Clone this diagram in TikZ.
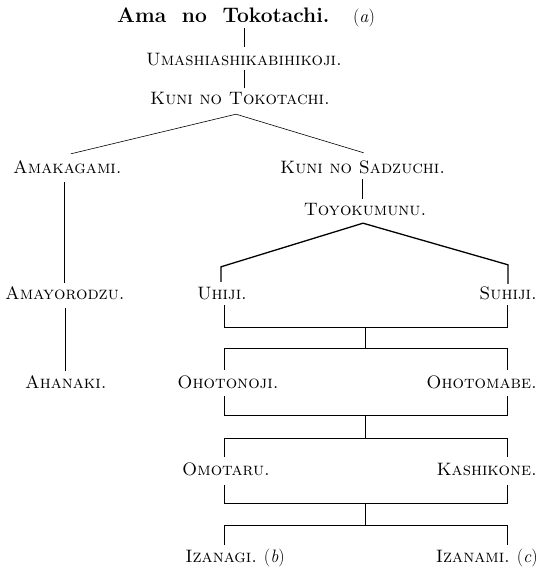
\documentclass[tikz,border=0pt]{standalone}
\usetikzlibrary{calc}
\begin{document}
\begin{tikzpicture}[x=1pt,y=-1pt,
  nm/.style={inner sep=0pt, font=\fontsize{18}{20}\selectfont\scshape, text height=13pt, text depth=0pt},
  ttl/.style={inner sep=0pt, font=\fontsize{21}{24}\selectfont\bfseries, text height=15pt, text depth=0pt},
  ln/.style={line width=0.6pt},
  thk/.style={line width=1.3pt}]
\useasboundingbox (0,0) rectangle (539,569);
% nodes
\node[ttl, anchor=base west] (title) at (117,23) {Ama\ \ no\ \ Tokotachi.\ \ \ {\mdseries\fontsize{18}{20}\selectfont(\textit{a})}};
\node[nm, anchor=base] (umashi) at (244,66) {Umashiashikabihikoji.};
\node[nm, anchor=base] (kuni) at (240,105) {Kuni\ no\ Tokotachi.};
\node[nm, anchor=base west] (amakagami) at (13,174) {Amakagami.};
\node[nm, anchor=base west] (sadzuchi) at (280,174) {Kuni\ no\ Sadzuchi.};
\node[nm, anchor=base] (toyo) at (365,215) {Toyokumunu.};
\node[nm, anchor=base west] (amayorodzu) at (5,299) {Amayorodzu.};
\node[nm, anchor=base west] (ahanaki) at (25,388) {Ahanaki.};
\node[nm, anchor=base] (uhiji) at (222,299) {Uhiji.};
\node[nm, anchor=base east] (suhiji) at (537,299) {Suhiji.};
\node[nm, anchor=base] (ohotonoji) at (228,388) {Ohotonoji.};
\node[nm, anchor=base east] (ohotomabe) at (537,388) {Ohotomabe.};
\node[nm, anchor=base] (omotaru) at (226,475) {Omotaru.};
\node[nm, anchor=base east] (kashikone) at (537,475) {Kashikone.};
\node[nm, anchor=base east] (izanagi) at (285,562) {Izanagi.\ {\upshape(\textit{b})}};
\node[nm, anchor=base east] (izanami) at (538,562) {Izanami.\ {\upshape(\textit{c})}};
% junction coordinates
\coordinate (xl) at (224,0);
\coordinate (xr) at (507,0);
\coordinate (xm) at (365,0);
% connectors
\draw[ln] ($(title.south -| umashi.north)+(0,5)$) -- ($(umashi.north)+(0,-6)$);
\draw[ln] ($(umashi.south)+(0,4)$) -- ($(umashi.south |- kuni.north)+(0,-4)$);
\draw[ln] ($(kuni.south)+(-4,9)$) coordinate (kapex) -- ($(amakagami.north)+(3.5,-7)$);
\draw[ln] (kapex) -- ($(sadzuchi.north)+(1,-8)$);
\draw[ln] ($(amakagami.south -| amayorodzu.north)+(-1,8)$) -- ($(amayorodzu.north)+(-1,-3)$);
\draw[ln] ($(amayorodzu.south)+(0,9)$) -- ($(amayorodzu.south |- ahanaki.north)+(0,-4)$);
\draw[ln] ($(sadzuchi.south -| toyo.north)+(-3,5)$) -- ($(toyo.north)+(-3,-3)$);
\draw[thk] ($(toyo.south)+(-2,8)$) coordinate (tapex) -- ($(uhiji.north -| xl)+(-3,-19)$) -- ($(uhiji.north -| xl)+(-3,-4)$);
\draw[thk] (tapex) -- ($(suhiji.north -| xr)+(1,-21)$) -- ($(suhiji.north -| xr)+(1,-2)$);
% bracket 1
\draw[ln] ($(uhiji.south -| xl)+(0,6)$) |- ($(uhiji.south -| xr)+(0,28)$) coordinate (b1r) -- ($(suhiji.south -| xr)+(0,6)$);
\draw[ln] (b1r -| xm) -- ($(b1r -| xm)+(0,21)$) coordinate (b2m);
\draw[ln] ($(ohotonoji.north -| xl)+(0,-5)$) |- (b2m -| xr) -- ($(ohotomabe.north -| xr)+(0,-5)$);
% bracket 2
\draw[ln] ($(ohotonoji.south -| xl)+(0,8)$) |- ($(ohotonoji.south -| xr)+(0,27)$) coordinate (b3r) -- ($(ohotomabe.south -| xr)+(0,8)$);
\draw[ln] (b3r -| xm) -- ($(b3r -| xm)+(0,23)$) coordinate (b4m);
\draw[ln] ($(omotaru.north -| xl)+(0,-5)$) |- (b4m -| xr) -- ($(kashikone.north -| xr)+(0,-5)$);
% bracket 3
\draw[ln] ($(omotaru.south -| xl)+(0,10)$) |- ($(omotaru.south -| xr)+(0,28)$) coordinate (b5r) -- ($(kashikone.south -| xr)+(0,10)$);
\draw[ln] (b5r -| xm) -- ($(b5r -| xm)+(0,22)$) coordinate (b6m);
\draw[ln] ($(izanagi.north -| xl)+(0,-4)$) |- (b6m -| xr) -- ($(izanami.north -| xr)+(0,-4)$);
\end{tikzpicture}
\end{document}
